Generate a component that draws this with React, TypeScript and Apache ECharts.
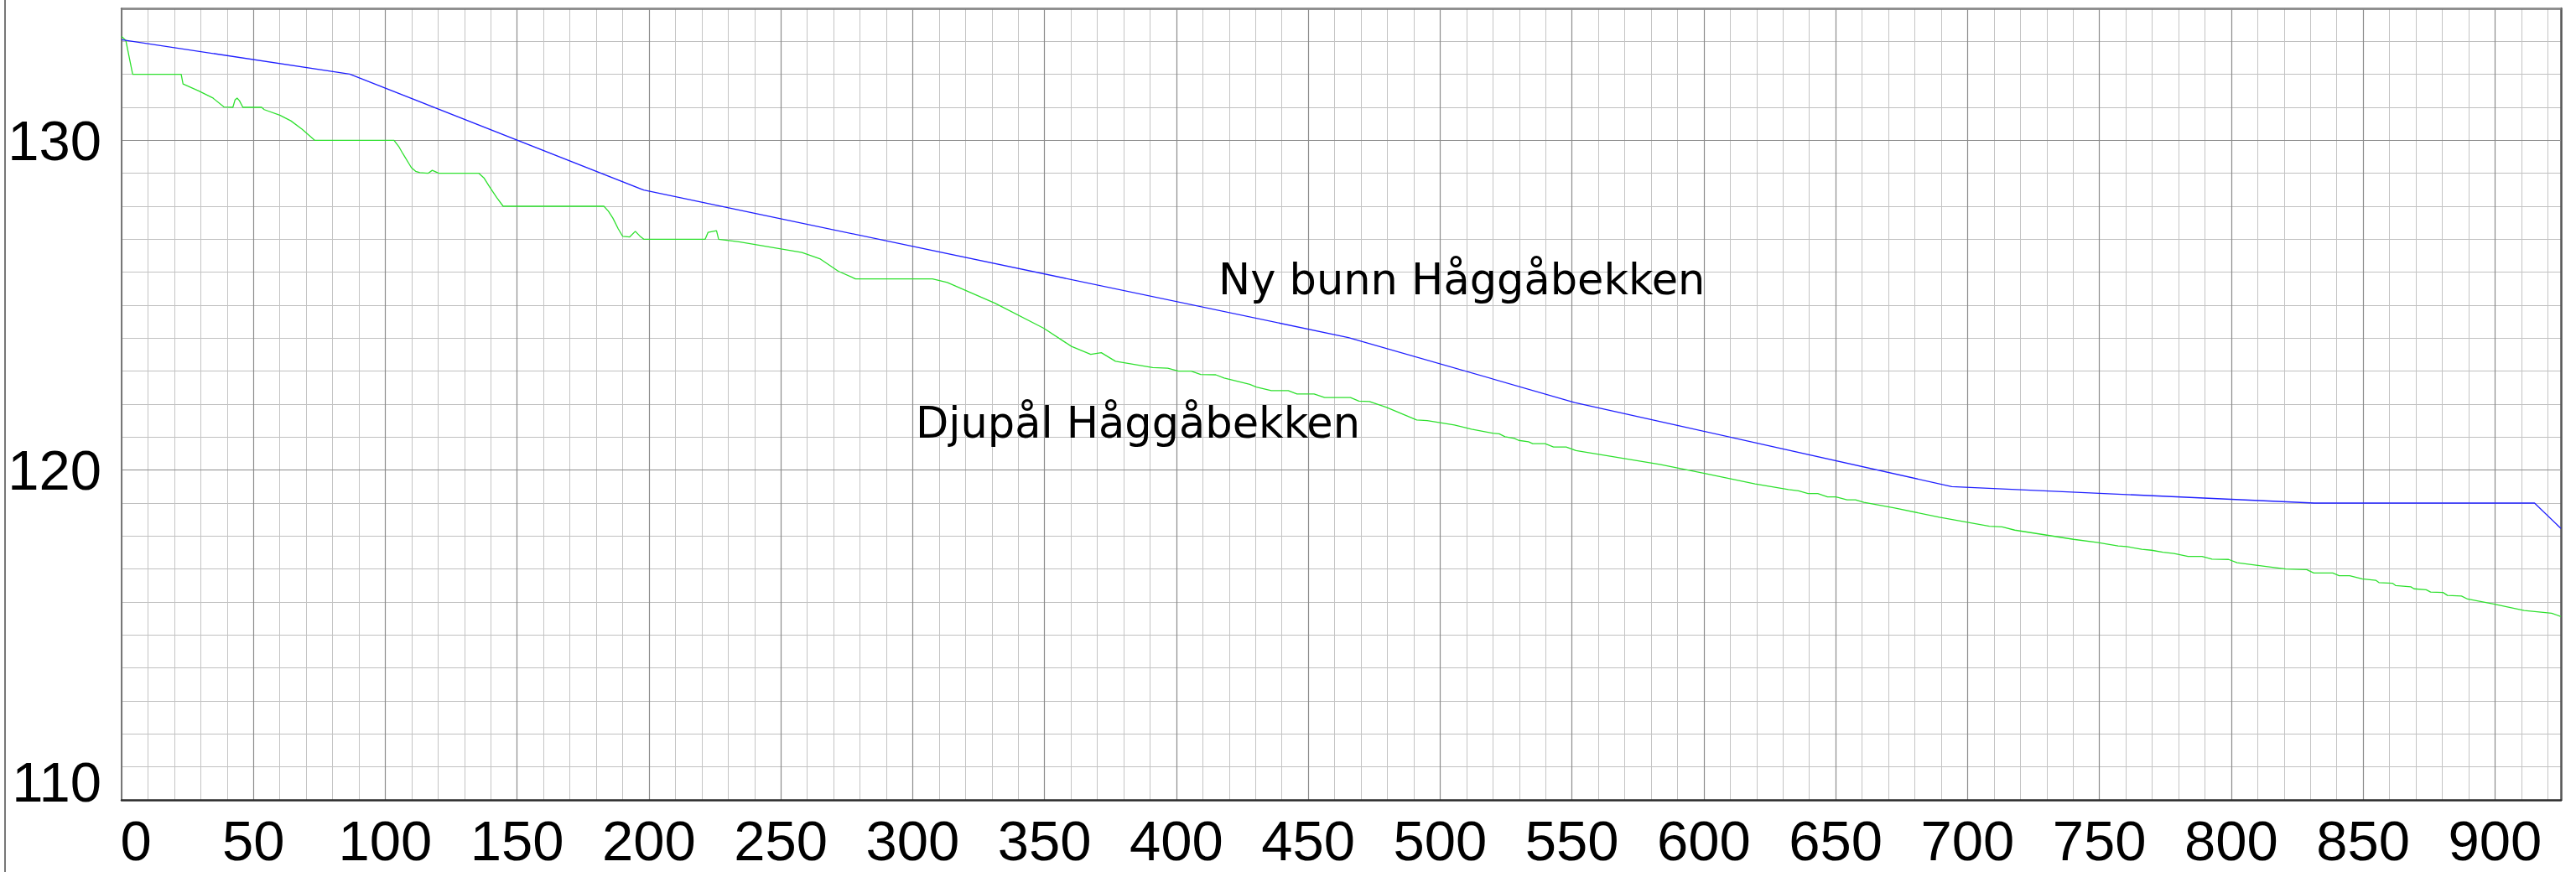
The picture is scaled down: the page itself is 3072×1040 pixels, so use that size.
import React, { useEffect, useRef } from "react";
import * as echarts from "echarts";

const xTicks = [0, 50, 100, 150, 200, 250, 300, 350, 400, 450, 500, 550, 600, 650, 700, 750, 800, 850, 900];
const yTicks = [110, 120, 130];
const X_MIN = 0;
const X_MAX = 925;
const Y_MIN = 110;
const Y_MAX = 134;

const bunnLabel = "Ny bunn Håggåbekken";
const djupalLabel = "Djupål Håggåbekken";

const bunnX = [0, 86.5, 198, 465.2, 551, 694, 831.5, 915, 925];
const bunnY = [133.05, 132.01, 128.49, 124.02, 122.05, 119.5, 119.0, 119.0, 118.23];

const djupalX = [
  0, 1.6, 4.2, 22.6, 23.3, 29.2, 34.5, 38.8, 42.2, 43.0, 43.8, 44.7, 46.0, 53.1, 54.1, 60.0, 64.2, 68.5, 73.2,
  103.3, 105.2, 106.7, 109.9, 111.5, 113.1, 116.2, 117.8, 120.3, 135.5, 137.5, 139.6, 142.2, 144.7, 182.9,
  184.6, 186.3, 188.3, 190.0, 192.7, 194.8, 196.5, 198.0, 221.3, 222.4, 225.6, 226.4, 234.1, 258, 265, 271.8,
  278.3, 307.5, 313.1, 331.2, 349.7, 360.2, 367.5, 371.5, 376.9, 391.0, 396.7, 400.8, 405.6, 409.2, 414.9,
  418.1, 427.8, 430.3, 436.0, 442.4, 445.7, 452.2, 456.2, 466.0, 469.2, 473.2, 479.7, 491.1, 495.1, 505.4,
  511.9, 519.9, 522.4, 524.6, 528.2, 529.8, 533.5, 535.1, 539.8, 543.0, 547.8, 551.5, 583.3, 600.3, 619.4,
  632.1, 635.9, 639.5, 643.2, 646.9, 650.1, 654.3, 657.5, 660.7, 672.4, 689.3, 708.3, 713.1, 717.9, 740.2,
  749.6, 752.8, 757.1, 760.3, 766.1, 769.8, 774.1, 778.3, 783.6, 788.9, 792.7, 799.0, 802.2, 810.1, 820.7,
  828.6, 831.3, 838.5, 840.9, 844.9, 849.6, 854.8, 856.0, 861.1, 862.3, 868.1, 869.3, 873.9, 875.6, 880.3,
  882.0, 887.3, 889.6, 899.5, 911.1, 921.5, 925,
];
const djupalY = [
  133.15, 133.03, 132.0, 132.0, 131.71, 131.5, 131.29, 131.01, 131.0, 131.22, 131.28, 131.2, 131.0, 131.0,
  130.93, 130.76, 130.59, 130.33, 130.0, 130.0, 129.8, 129.59, 129.17, 129.06, 129.02, 129.0, 129.09, 129.0,
  129.0, 128.85, 128.58, 128.27, 128.0, 128.0, 127.85, 127.64, 127.32, 127.09, 127.07, 127.24, 127.1, 127.0,
  127.0, 127.21, 127.26, 127.0, 126.92, 126.6, 126.4, 126.03, 125.8, 125.8, 125.69, 125.06, 124.3, 123.75,
  123.51, 123.56, 123.3, 123.11, 123.09, 123.0, 123.0, 122.9, 122.89, 122.79, 122.6, 122.52, 122.41, 122.41,
  122.31, 122.31, 122.2, 122.2, 122.09, 122.08, 121.9, 121.52, 121.5, 121.37, 121.24, 121.12, 121.1, 121.01,
  120.96, 120.9, 120.86, 120.8, 120.8, 120.7, 120.7, 120.59, 120.17, 119.9, 119.58, 119.41, 119.37, 119.29,
  119.29, 119.19, 119.19, 119.1, 119.1, 119.02, 118.85, 118.57, 118.3, 118.28, 118.18, 117.9, 117.8, 117.76,
  117.7, 117.68, 117.6, 117.57, 117.51, 117.47, 117.38, 117.38, 117.3, 117.29, 117.19, 117.11, 117.0, 116.98,
  116.88, 116.88, 116.8, 116.8, 116.7, 116.66, 116.59, 116.57, 116.5, 116.46, 116.4, 116.37, 116.3, 116.29,
  116.2, 116.18, 116.09, 115.94, 115.74, 115.66, 115.56,
];

const LABEL_FONT = "Liberation Sans, Arial, sans-serif";

export default function App() {
  const ref = useRef<HTMLDivElement>(null);

  useEffect(() => {
    if (!ref.current) return;
    const chart = echarts.init(ref.current, null, { renderer: "svg" });
    const bunnData = bunnX.map((x, i) => [x, bunnY[i]]);
    const djupalData = djupalX.map((x, i) => [x, djupalY[i]]);

    const option: any = {
      animation: false,
      backgroundColor: "#ffffff",
      grid: { left: 145, top: 10, width: 2909, height: 944, containLabel: false },
      xAxis: [
        {
          type: "value",
          min: X_MIN,
          max: X_MAX,
          interval: 10,
          position: "top",
          z: 0,
          axisLine: { show: true, onZero: false, lineStyle: { color: "#6f6f6f", width: 2.5 } },
          axisTick: { show: false },
          axisLabel: { show: false },
          splitLine: { show: true, lineStyle: { color: "#c4c4c4", width: 1 } },
        },
        {
          type: "value",
          min: X_MIN,
          max: X_MAX,
          interval: 50,
          position: "bottom",
          z: 1,
          axisLine: { show: true, onZero: false, lineStyle: { color: "#2a2a2a", width: 2.5 } },
          axisTick: { show: false },
          splitLine: { show: true, showMaxLine: false, lineStyle: { color: "#8c8c8c", width: 1.2 } },
          axisLabel: {
            show: true,
            margin: 15,
            color: "#000000",
            fontFamily: LABEL_FONT,
            fontSize: 67,
            formatter: (v: number) => {
              if (!xTicks.includes(v)) return "";
              if (v === 0) return "{z|0}";
              return String(v);
            },
            rich: {
              z: { fontFamily: LABEL_FONT, fontSize: 67, color: "#000000", padding: [0, 0, 0, 34] },
            },
          },
        },
      ],
      yAxis: [
        {
          type: "value",
          min: Y_MIN,
          max: Y_MAX,
          interval: 1,
          position: "right",
          z: 0,
          axisLine: { show: true, onZero: false, lineStyle: { color: "#555555", width: 2.5 } },
          axisTick: { show: false },
          axisLabel: { show: false },
          splitLine: { show: true, lineStyle: { color: "#c0c0c0", width: 1 } },
        },
        {
          type: "value",
          min: Y_MIN,
          max: Y_MAX,
          interval: 10,
          position: "left",
          z: 1,
          axisLine: { show: true, onZero: false, lineStyle: { color: "#777777", width: 2 } },
          axisTick: { show: false },
          splitLine: { show: true, showMinLine: false, lineStyle: { color: "#8c8c8c", width: 1.2 } },
          axisLabel: {
            show: true,
            margin: 24,
            color: "#000000",
            fontFamily: LABEL_FONT,
            fontSize: 67,
            formatter: (v: number) => {
              if (!yTicks.includes(v)) return "";
              if (v === Y_MIN) return "{b|" + v + "}";
              return String(v);
            },
            rich: {
              b: { fontFamily: LABEL_FONT, fontSize: 67, color: "#000000", padding: [0, 0, 44, 0] },
            },
          },
        },
      ],
      series: [
        {
          name: djupalLabel,
          type: "line",
          xAxisIndex: 1,
          yAxisIndex: 1,
          data: djupalData,
          showSymbol: false,
          symbol: "none",
          lineStyle: { color: "#2ee02e", width: 1.3 },
          z: 3,
        },
        {
          name: bunnLabel,
          type: "line",
          xAxisIndex: 1,
          yAxisIndex: 1,
          data: bunnData,
          showSymbol: false,
          symbol: "none",
          lineStyle: { color: "#2020ff", width: 1.3 },
          z: 4,
        },
      ],
      graphic: [
        {
          type: "line",
          shape: { x1: 6, y1: 0, x2: 6, y2: 1040 },
          style: { stroke: "#777777", lineWidth: 2 },
        },
        {
          type: "text",
          x: 1453,
          y: 333,
          style: {
            text: bunnLabel,
            fontFamily: "DejaVu Sans",
            fontSize: 51,
            fill: "#000000",
            align: "left",
            verticalAlign: "middle",
          },
          z: 10,
        },
        {
          type: "text",
          x: 1092,
          y: 504,
          style: {
            text: djupalLabel,
            fontFamily: "DejaVu Sans",
            fontSize: 51,
            fill: "#000000",
            align: "left",
            verticalAlign: "middle",
          },
          z: 10,
        },
      ],
    };
    chart.setOption(option);
    return () => chart.dispose();
  }, []);

  return (
    <div
      ref={ref}
      style={{ position: "absolute", left: 0, top: 0, width: 3072, height: 1040, background: "#ffffff" }}
    />
  );
}
